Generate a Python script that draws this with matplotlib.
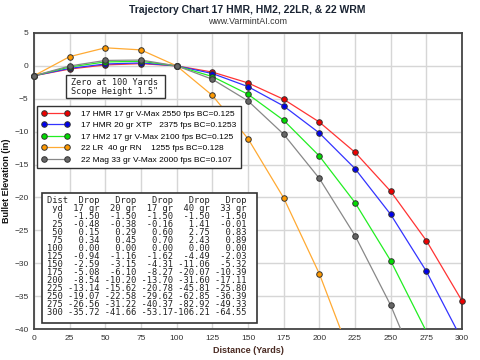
import numpy as np
import matplotlib; matplotlib.use("Agg")
import matplotlib.pyplot as plt
from matplotlib.patches import Rectangle

plt.rcParams.update({"font.family": ["Liberation Sans", "DejaVu Sans"]})

dist = [0, 25, 50, 75, 100, 125, 150, 175, 200, 225, 250, 275, 300]
hmr17 = [-1.50, -0.48, 0.15, 0.34, 0.00, -0.94, -2.59, -5.08, -8.54, -13.14, -19.07, -26.56, -35.72]
hmr20 = [-1.50, -0.38, 0.29, 0.45, 0.00, -1.16, -3.15, -6.10, -10.20, -15.62, -22.58, -31.22, -41.66]
hm2 = [-1.50, -0.16, 0.60, 0.70, 0.00, -1.62, -4.31, -8.27, -13.70, -20.78, -29.62, -40.37, -53.17]
lr22 = [-1.50, 1.41, 2.75, 2.43, 0.00, -4.49, -11.06, -20.07, -31.60, -45.81, -62.85, -82.92, -106.21]
mag22 = [-1.50, -0.01, 0.83, 0.89, 0.00, -2.03, -5.32, -10.39, -17.11, -25.80, -36.39, -49.33, -64.55]

labels = ["17 HMR 17 gr V-Max 2550 fps BC=0.125",
          "17 HMR 20 gr XTP   2375 fps BC=0.1253",
          "17 HM2 17 gr V-Max 2100 fps BC=0.125",
          "22 LR  40 gr RN    1255 fps BC=0.128",
          "22 Mag 33 gr V-Max 2000 fps BC=0.107"]
grains = ["17 gr", "20 gr", "17 gr", "40 gr", "33 gr"]
series = [hmr17, hmr20, hm2, lr22, mag22]
line_cols = ["#ff3333", "#3333ff", "#22ee22", "#ffaa33", "#888888"]
mark_cols = ["#ee0000", "#0000ee", "#00dd00", "#ff9900", "#666666"]

fig = plt.figure(figsize=(4.8, 3.6), dpi=100)
ax = fig.add_axes([34 / 480, 1 - 329 / 360, 428 / 480, 296 / 360])

x = np.array(dist)
for ys, lc, mc, lab in zip(series, line_cols, mark_cols, labels):
    y = np.array(ys)
    ax.plot(x, y, color=lc, lw=0.9, zorder=3)
    m = (y >= -40) & (y <= 5)
    ax.plot(x[m], y[m], ls="none", marker="o", ms=4, mfc=mc, mec="#333333", mew=0.7,
            zorder=4, clip_on=False)
    ax.plot([], [], color=lc, lw=0.9, marker="o", ms=4, mfc=mc, mec="#333333", mew=0.7, label=lab)

ax.set_xlim(0, 300); ax.set_ylim(-40, 5)
ax.set_xticks(np.arange(0, 301, 25)); ax.set_yticks(np.arange(-40, 6, 5))
ax.grid(True, color="#d6d6d6", lw=1.0, zorder=0)
ax.tick_params(length=0, labelsize=6, colors="#333333", pad=4)
for s in ax.spines.values():
    s.set_color("#444444"); s.set_linewidth(1.3)
ax.set_xlabel("Distance (Yards)", fontsize=6.5, fontweight="bold", color="#4a2a22", labelpad=3)
ax.set_ylabel("Bullet Elevation (in)", fontsize=6.5, fontweight="bold", color="#111111", labelpad=2)

fig.text(0.515, 0.985, "Trajectory Chart 17 HMR, HM2, 22LR, & 22 WRM", ha="center", va="top",
         fontsize=7.5, fontweight="bold", color="#1a2433")
fig.text(0.515, 0.952, "www.VarmintAI.com", ha="center", va="top", fontsize=6.4, color="#333333")

leg = ax.legend(loc="upper left", bbox_to_anchor=(0.007, 0.755), borderaxespad=0, fontsize=6.0,
                numpoints=2, handlelength=3.4, handletextpad=1.4, labelspacing=0.45,
                fancybox=False, framealpha=1, edgecolor="#333333", borderpad=0.5)
leg.get_frame().set_linewidth(1.0)
leg.set_zorder(6)

# zero / scope box
ax.add_patch(Rectangle((0.075, 0.780), 0.231, 0.078, transform=ax.transAxes, fc="white",
                       ec="#333333", lw=1.0, zorder=6))
ax.text(0.086, 0.848, 'Zero at 100 Yards\nScope Height 1.5"', transform=ax.transAxes,
        ha="left", va="top", fontsize=6.1, family="DejaVu Sans Mono", linespacing=0.95,
        color="#222222", zorder=7)

# drop table
rows = ["Dist" + "".join("   Drop" if i else "  Drop" for i in range(5)),
        " yd" + "".join(f"{g:>7}" for g in grains)]
for i, d in enumerate(dist):
    rows.append(f"{d:3d}" + "".join(f"{s[i]:7.2f}" for s in series))
ax.add_patch(Rectangle((0.0187, 0.020), 0.503, 0.439, transform=ax.transAxes, fc="white",
                       ec="#333333", lw=1.2, zorder=6))
ax.text(0.030, 0.450, "\n".join(rows), transform=ax.transAxes, ha="left", va="top",
        fontsize=6.3, family="DejaVu Sans Mono", linespacing=0.86, color="#222222", zorder=7)

fig.savefig("out.png", dpi=100, facecolor="white")
